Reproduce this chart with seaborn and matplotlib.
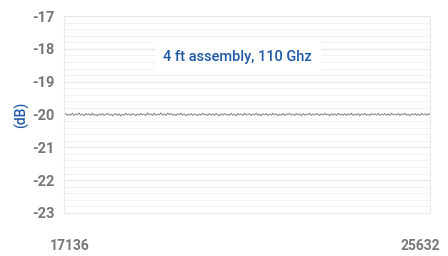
import numpy as np
import pandas as pd
import seaborn as sns
import matplotlib.pyplot as plt

# Data
x_start, x_end = 16990, 25875
loss_db = [
    -20.01, -19.97, -20.03, -19.99, -20.02, -19.96, -20.03, -19.98, -20.01, -19.95,
    -20.02, -19.99, -20.04, -19.97, -20.01, -19.98, -20.03, -19.96, -20.02, -20.00,
    -20.04, -19.98, -20.02, -19.97, -20.03, -20.00, -19.96, -20.02, -19.99, -20.04,
    -20.01, -19.97, -20.03, -19.98, -20.05, -19.99, -20.02, -19.96, -20.01, -19.98,
    -20.03, -19.97, -20.00, -20.04, -19.98, -20.02, -19.96, -20.01, -19.99, -20.03,
    -19.95, -20.01, -19.98, -20.03, -19.96, -20.02, -19.99, -20.01, -19.95, -20.02,
    -19.98, -20.03, -19.96, -20.00, -19.97, -20.02, -19.99, -20.04, -19.97, -20.01,
    -19.96, -20.02, -19.98, -20.04, -19.99, -20.01, -19.97, -20.03, -19.98, -20.00,
    -20.04, -19.98, -20.02, -19.96, -20.01, -19.99, -20.03, -19.97, -20.02, -19.98,
    -20.03, -19.96, -20.01, -20.04, -19.98, -20.02, -19.97, -20.01, -19.99, -20.03,
    -19.96, -20.02, -19.99, -20.04, -19.97, -20.01, -19.98, -20.03, -19.96, -20.02,
    -20.00, -19.97, -20.03, -19.98, -20.01, -19.96, -20.02, -19.99, -20.04, -19.98,
    -20.01, -19.97, -20.03, -19.99, -20.02, -19.96, -20.01, -19.98, -20.04, -19.99,
    -20.02, -19.97, -20.03, -19.98, -20.00, -19.96, -20.02, -19.99, -20.03, -19.97,
    -20.01, -19.98, -20.04, -19.97, -20.02, -19.99, -20.01, -19.96, -20.03, -19.98,
    -20.02, -19.97, -20.00, -20.03, -19.98, -20.02, -19.96, -20.01, -19.99, -20.04,
    -19.97, -20.02, -19.98, -20.03, -19.96, -20.01, -19.99, -20.02, -19.97, -20.03,
    -19.98, -20.01, -19.96, -20.03, -19.99, -20.02, -19.97, -20.04, -19.98, -20.01,
    -19.96, -20.02, -19.99, -20.03, -19.97, -20.01, -19.98, -20.02, -19.96, -20.03,
    -19.99, -20.01, -19.97, -20.02, -19.98, -20.03, -19.96, -20.01, -19.99, -20.02,
    -19.97, -20.03, -19.98, -20.01, -19.96, -20.02, -19.99, -20.04, -19.98, -20.01,
    -19.97, -20.02, -19.99, -20.03, -19.96, -20.01, -19.98, -20.02, -19.97, -20.01,
]
freq = np.linspace(x_start, x_end, len(loss_db))
x_ticks = [17136, 25632]
y_ticks = [-17, -18, -19, -20, -21, -22, -23]
title = "4 ft assembly, 110 Ghz"
y_label = "(dB)"

df = pd.DataFrame({"freq": freq, "loss": loss_db})

sns.set_theme(style="white")
plt.rcParams['font.family'] = ['Roboto', 'DejaVu Sans']

fig = plt.figure(figsize=(4.48, 2.56), dpi=100)
ax = fig.add_axes([64/448, 1-213/256, (430-64)/448, (213-16)/256])

# grid lines
ax.set_yticks(y_ticks)
ax.set_yticks(np.arange(-23, -16.9, 0.2), minor=True)
ax.grid(which='minor', axis='y', color='#f2f2f2', linewidth=0.8)
ax.grid(which='major', axis='y', color='#e6e6e6', linewidth=0.9)
ax.set_axisbelow(True)

sns.lineplot(data=df, x="freq", y="loss", ax=ax, color='#8a8a8a', linewidth=0.7)

ax.set_xlim(x_start, x_end)
ax.set_ylim(-23, -17)
ax.set_xticks(x_ticks)
ax.set_xticklabels([str(v) for v in x_ticks])
ax.set_yticklabels([str(v) for v in y_ticks])
ax.tick_params(axis='y', which='both', length=0, pad=7, labelsize=10.5, labelcolor='#777777')
ax.tick_params(axis='x', which='both', length=0, pad=19, labelsize=10, labelcolor='#777777')
for lab in ax.get_xticklabels() + ax.get_yticklabels():
    lab.set_fontweight('bold')

for s in ['left', 'right', 'bottom']:
    ax.spines[s].set_color('#ebebeb')
    ax.spines[s].set_linewidth(0.8)
ax.spines['top'].set_visible(False)

ax.set_xlabel("")
ax.set_ylabel(y_label, color='#1f5aa6', fontsize=10, fontweight='medium', labelpad=2)

ax.text(0.475, 0.79, title, transform=ax.transAxes, ha='center', va='center',
        fontsize=10.5, color='#1f5aa6', fontweight='medium',
        bbox=dict(facecolor='white', edgecolor='none', boxstyle='square,pad=0.6'))

fig.savefig("out.png", dpi=100)
